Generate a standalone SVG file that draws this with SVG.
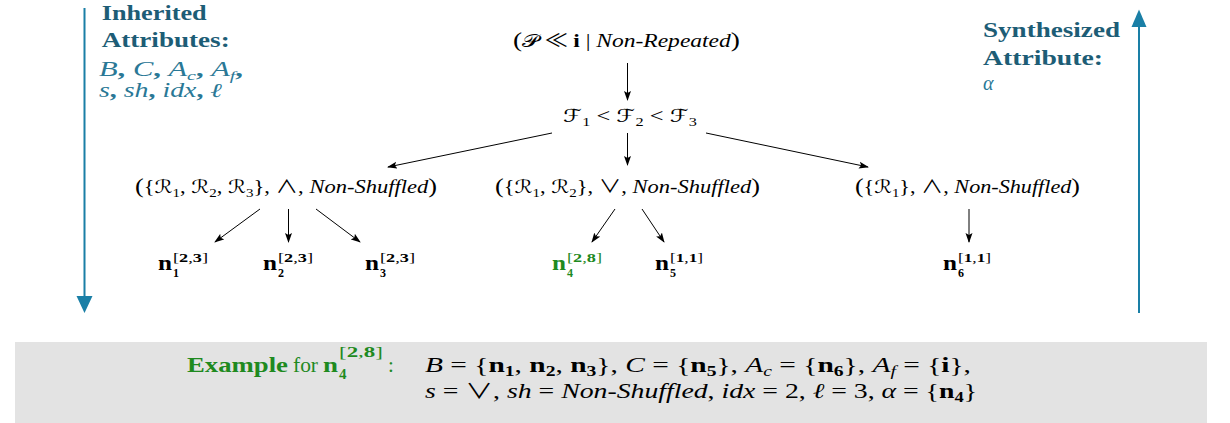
<svg xmlns="http://www.w3.org/2000/svg" width="1230" height="423" viewBox="0 0 1230 423" font-family="'Liberation Serif', 'DejaVu Serif', serif">
<style>
text{font-family:"Liberation Serif","DejaVu Serif",serif;fill:#000}
.m{font-size:18px}
.it{font-style:italic}
.b{font-weight:bold}
.sub{font-size:12px}
.op{font-family:"Noto Sans CJK SC","DejaVu Sans",sans-serif;font-weight:normal;font-style:normal}
.scr{font-family:"DejaVu Serif","DejaVu Sans",serif;font-style:normal}
.lbl{font-weight:bold;font-size:21px;fill:#1d5d76}
.math{font-style:italic;font-size:20px;fill:#2a7896}
.g{fill:#1f8a1f}
.conn{stroke:#000;stroke-width:1;fill:none;marker-end:url(#ah)}
.big{stroke:#1a7fa6;stroke-width:2;fill:none}
</style>
<defs>
<marker id="ah" viewBox="0 0 10 8" refX="9" refY="4" markerWidth="10" markerHeight="8" markerUnits="userSpaceOnUse" orient="auto">
<path d="M0,0.5 L10,4 L0,7.5 L2,4 z" fill="#000"/>
</marker>
</defs>

<rect id="example-box" x="15" y="342" width="1192" height="81" fill="#e3e3e3"/>

<g id="side-arrows">
<line class="big" x1="84.5" y1="8" x2="84.5" y2="297"/>
<path d="M76.5,296 L92.5,296 L84.5,313 z" fill="#1a7fa6"/>
<line class="big" x1="1139" y1="313" x2="1139" y2="26"/>
<path d="M1131.5,27 L1146.5,27 L1139,9.5 z" fill="#1a7fa6"/>
</g>

<g id="inherited-label">
<text class="lbl" x="101.7" y="20" textLength="105" lengthAdjust="spacingAndGlyphs">Inherited</text>
<text class="lbl" x="101.7" y="47" textLength="128" lengthAdjust="spacingAndGlyphs">Attributes:</text>
<text class="math" x="99" y="76" textLength="144" lengthAdjust="spacingAndGlyphs">B<tspan font-style="normal" font-weight="bold">, </tspan>C<tspan font-style="normal" font-weight="bold">, </tspan>A<tspan font-size="13" dy="4">c</tspan><tspan font-style="normal" font-weight="bold" dy="-4">, </tspan>A<tspan font-size="13" dy="4">f</tspan><tspan font-style="normal" font-weight="bold" dy="-4">,</tspan></text>
<text class="math" x="99" y="97" textLength="123" lengthAdjust="spacingAndGlyphs">s<tspan font-style="normal" font-weight="bold">, </tspan>sh<tspan font-style="normal" font-weight="bold">, </tspan>idx<tspan font-style="normal" font-weight="bold">, </tspan>ℓ</text>
</g>

<g id="synthesized-label">
<text class="lbl" x="983" y="37" textLength="137" lengthAdjust="spacingAndGlyphs">Synthesized</text>
<text class="lbl" x="983" y="65" textLength="120" lengthAdjust="spacingAndGlyphs">Attribute:</text>
<text class="math" x="983" y="90">α</text>
</g>

<g id="connectors">
<line class="conn" x1="627.5" y1="63" x2="627.5" y2="100"/>
<line class="conn" x1="552" y1="133" x2="388" y2="167"/>
<line class="conn" x1="627.5" y1="133" x2="627.5" y2="165"/>
<line class="conn" x1="706" y1="133" x2="868" y2="167"/>
<line class="conn" x1="260" y1="209" x2="215" y2="242"/>
<line class="conn" x1="288.5" y1="209" x2="288.5" y2="242"/>
<line class="conn" x1="316" y1="209" x2="360" y2="242"/>
<line class="conn" x1="615" y1="209" x2="592" y2="242"/>
<line class="conn" x1="642" y1="209" x2="664" y2="242"/>
<line class="conn" x1="969" y1="209" x2="969" y2="242"/>
</g>

<g id="root-node">
<text class="m" x="513" y="47" textLength="227" lengthAdjust="spacingAndGlyphs"><tspan font-size="21">(</tspan><tspan class="scr">𝒫</tspan><tspan class="op"> ≪ </tspan><tspan class="b">i</tspan> | <tspan class="it">Non-Repeated</tspan><tspan font-size="21">)</tspan></text>
</g>

<g id="fragment-order">
<text class="m" x="563" y="122" textLength="134" lengthAdjust="spacingAndGlyphs"><tspan class="scr">ℱ</tspan><tspan class="sub" dy="4">1</tspan><tspan dy="-4"> &lt; </tspan><tspan class="scr">ℱ</tspan><tspan class="sub" dy="4">2</tspan><tspan dy="-4"> &lt; </tspan><tspan class="scr">ℱ</tspan><tspan class="sub" dy="4">3</tspan></text>
</g>

<g id="rule-set-1">
<text class="m" x="135" y="193" textLength="302" lengthAdjust="spacingAndGlyphs"><tspan font-size="21">(</tspan>{<tspan class="scr">ℛ</tspan><tspan class="sub" dy="4">1</tspan><tspan dy="-4">, </tspan><tspan class="scr">ℛ</tspan><tspan class="sub" dy="4">2</tspan><tspan dy="-4">, </tspan><tspan class="scr">ℛ</tspan><tspan class="sub" dy="4">3</tspan><tspan dy="-4">}, </tspan><tspan class="op">∧</tspan>, <tspan class="it">Non-Shuffled</tspan><tspan font-size="21">)</tspan></text>
</g>

<g id="rule-set-2">
<text class="m" x="495" y="193" textLength="265" lengthAdjust="spacingAndGlyphs"><tspan font-size="21">(</tspan>{<tspan class="scr">ℛ</tspan><tspan class="sub" dy="4">1</tspan><tspan dy="-4">, </tspan><tspan class="scr">ℛ</tspan><tspan class="sub" dy="4">2</tspan><tspan dy="-4">}, </tspan><tspan class="op">∨</tspan>, <tspan class="it">Non-Shuffled</tspan><tspan font-size="21">)</tspan></text>
</g>

<g id="rule-set-3">
<text class="m" x="855" y="193" textLength="225" lengthAdjust="spacingAndGlyphs"><tspan font-size="21">(</tspan>{<tspan class="scr">ℛ</tspan><tspan class="sub" dy="4">1</tspan><tspan dy="-4">}, </tspan><tspan class="op">∧</tspan>, <tspan class="it">Non-Shuffled</tspan><tspan font-size="21">)</tspan></text>
</g>

<g id="n1">
<text class="b" x="158" y="270" font-size="20" textLength="14" lengthAdjust="spacingAndGlyphs">n</text>
<text class="sub" x="173" y="262" font-size="13" textLength="35" lengthAdjust="spacingAndGlyphs">[<tspan class="b">2</tspan>,<tspan class="b">3</tspan>]</text>
<text class="sub b" x="173" y="277" font-size="13">1</text>
</g>
<g id="n2">
<text class="b" x="263" y="270" font-size="20" textLength="14" lengthAdjust="spacingAndGlyphs">n</text>
<text class="sub" x="278" y="262" font-size="13" textLength="35" lengthAdjust="spacingAndGlyphs">[<tspan class="b">2</tspan>,<tspan class="b">3</tspan>]</text>
<text class="sub b" x="278" y="277" font-size="13">2</text>
</g>
<g id="n3">
<text class="b" x="365" y="270" font-size="20" textLength="14" lengthAdjust="spacingAndGlyphs">n</text>
<text class="sub" x="380" y="262" font-size="13" textLength="35" lengthAdjust="spacingAndGlyphs">[<tspan class="b">2</tspan>,<tspan class="b">3</tspan>]</text>
<text class="sub b" x="380" y="277" font-size="13">3</text>
</g>
<g id="n4">
<text class="b g" x="552" y="270" font-size="20" textLength="14" lengthAdjust="spacingAndGlyphs">n</text>
<text class="sub g" x="567" y="262" font-size="13" textLength="35" lengthAdjust="spacingAndGlyphs">[<tspan class="b">2</tspan>,<tspan class="b">8</tspan>]</text>
<text class="sub b g" x="567" y="277" font-size="13">4</text>
</g>
<g id="n5">
<text class="b" x="655" y="270" font-size="20" textLength="14" lengthAdjust="spacingAndGlyphs">n</text>
<text class="sub" x="670" y="262" font-size="13" textLength="33" lengthAdjust="spacingAndGlyphs">[<tspan class="b">1</tspan>,<tspan class="b">1</tspan>]</text>
<text class="sub b" x="670" y="277" font-size="13">5</text>
</g>
<g id="n6">
<text class="b" x="943" y="270" font-size="20" textLength="14" lengthAdjust="spacingAndGlyphs">n</text>
<text class="sub" x="958" y="262" font-size="13" textLength="33" lengthAdjust="spacingAndGlyphs">[<tspan class="b">1</tspan>,<tspan class="b">1</tspan>]</text>
<text class="sub b" x="958" y="277" font-size="13">6</text>
</g>

<g id="example">
<text class="g b" x="187" y="372" font-size="22" textLength="101" lengthAdjust="spacingAndGlyphs">Example</text>
<text class="g" x="293" y="372" font-size="21" textLength="25" lengthAdjust="spacingAndGlyphs">for</text>
<text class="g b" x="323" y="372" font-size="22" textLength="15" lengthAdjust="spacingAndGlyphs">n</text>
<text class="g" x="339" y="357" font-size="15" textLength="44" lengthAdjust="spacingAndGlyphs">[<tspan class="b">2</tspan>,<tspan class="b">8</tspan>]</text>
<text class="g b" x="339" y="379" font-size="15">4</text>
<text class="g" x="388" y="372" font-size="21">:</text>
<text x="425" y="372" font-size="21" textLength="546" lengthAdjust="spacingAndGlyphs"><tspan class="it">B</tspan> = {<tspan class="b">n</tspan><tspan class="b" font-size="14" dy="4">1</tspan><tspan dy="-4">, </tspan><tspan class="b">n</tspan><tspan class="b" font-size="14" dy="4">2</tspan><tspan dy="-4">, </tspan><tspan class="b">n</tspan><tspan class="b" font-size="14" dy="4">3</tspan><tspan dy="-4">},   </tspan><tspan class="it">C</tspan> = {<tspan class="b">n</tspan><tspan class="b" font-size="14" dy="4">5</tspan><tspan dy="-4">},   </tspan><tspan class="it">A</tspan><tspan class="it" font-size="14" dy="4">c</tspan><tspan dy="-4"> = {</tspan><tspan class="b">n</tspan><tspan class="b" font-size="14" dy="4">6</tspan><tspan dy="-4">},   </tspan><tspan class="it">A</tspan><tspan class="it" font-size="14" dy="4">f</tspan><tspan dy="-4"> = {</tspan><tspan class="b">i</tspan>},</text>
<text x="425" y="398" font-size="21" textLength="552" lengthAdjust="spacingAndGlyphs"><tspan class="it">s</tspan> = <tspan class="op">∨</tspan>,   <tspan class="it">sh</tspan> = <tspan class="it">Non-Shuffled</tspan>,   <tspan class="it">idx</tspan> = 2,   <tspan class="it">ℓ</tspan> = 3,   <tspan class="it">α</tspan> = {<tspan class="b">n</tspan><tspan class="b" font-size="14" dy="4">4</tspan><tspan dy="-4">}</tspan></text>
</g>
</svg>
